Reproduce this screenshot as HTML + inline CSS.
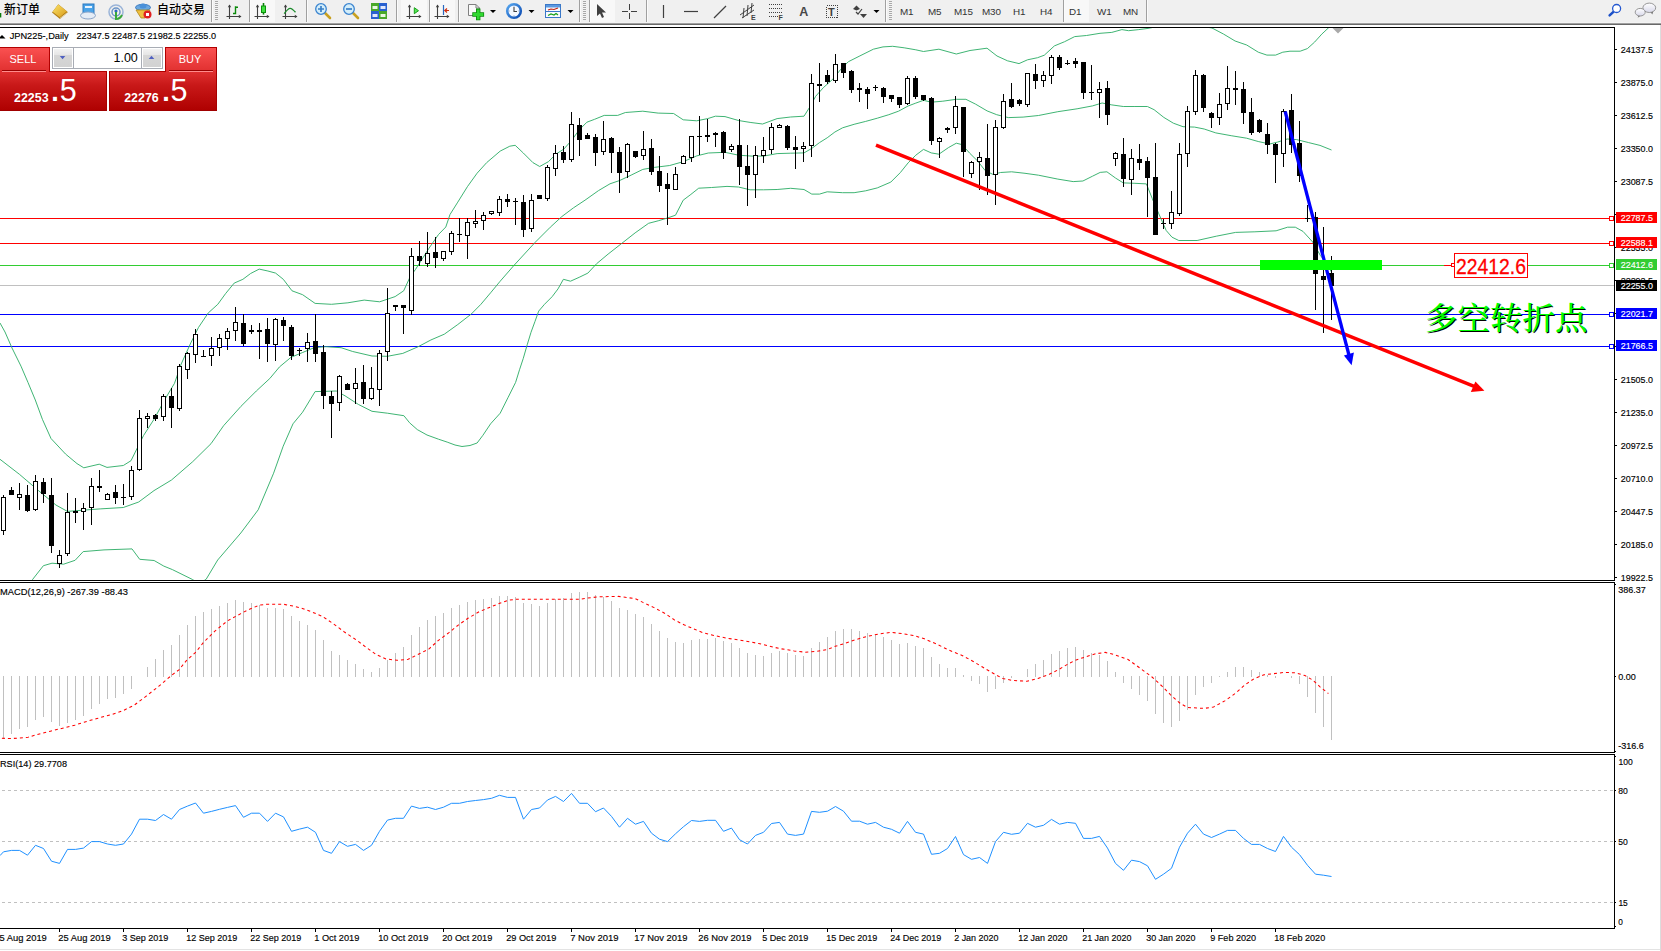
<!DOCTYPE html>
<html lang="zh"><head><meta charset="utf-8"><title>JPN225 Daily</title>
<style>
html,body{margin:0;padding:0;background:#fff;}
body{width:1661px;height:951px;overflow:hidden;position:relative;font-family:"Liberation Sans", "Noto Sans CJK SC", sans-serif;}
#chart{position:absolute;left:0;top:0;}
#toolbar{position:absolute;left:0;top:0;width:1661px;height:22px;background:#f0f0f0;}
#tbline{position:absolute;left:0;top:22px;width:1661px;height:3px;background:linear-gradient(#f4f4f4 0 1px,#a0a0a0 1px 2px,#696969 2px 3px);}
.tbtxt{position:absolute;top:3px;font-size:12px;line-height:15px;color:#000;white-space:nowrap;}
.tf{position:absolute;top:5.5px;font-size:9.9px;line-height:12px;color:#343434;white-space:nowrap;letter-spacing:-0.15px;}
.sep{position:absolute;top:0px;width:1px;height:22px;background:#a0a0a0;box-shadow:1px 0 0 #fbfbfb;}
.grip{position:absolute;top:1px;width:3px;height:19px;background:repeating-linear-gradient(#a8a8a8 0 1px,#f4f4f4 1px 2px);}
.hl{position:absolute;top:0;height:22px;background:#f8f8f8;}
#tb svg{position:absolute;left:0;top:0;}
#trade{position:absolute;left:0;top:47px;width:217px;height:64px;}
#trade div{position:absolute;}
</style></head><body>
<svg id="chart" width="1661" height="951" viewBox="0 0 1661 951" font-family='"Liberation Sans", "Noto Sans CJK SC", sans-serif'>
<defs>
<clipPath id="cm"><rect x="0" y="28" width="1614" height="552"/></clipPath>
<clipPath id="cmacd"><rect x="0" y="583" width="1614" height="169"/></clipPath>
<clipPath id="crsi"><rect x="0" y="755" width="1614" height="173"/></clipPath>
</defs>
<g shape-rendering="crispEdges" stroke="#000" stroke-width="1" fill="none">
<line x1="0" y1="27.5" x2="1615" y2="27.5"/>
<line x1="1614.5" y1="27" x2="1614.5" y2="581"/>
<line x1="0" y1="580.5" x2="1615" y2="580.5"/>
<line x1="0" y1="582.5" x2="1615" y2="582.5"/>
<line x1="1614.5" y1="582" x2="1614.5" y2="753"/>
<line x1="0" y1="752.5" x2="1615" y2="752.5"/>
<line x1="0" y1="754.5" x2="1615" y2="754.5"/>
<line x1="1614.5" y1="754" x2="1614.5" y2="929"/>
<line x1="0" y1="928.5" x2="1615" y2="928.5"/>
</g>
<g clip-path="url(#cm)">
<g shape-rendering="crispEdges" stroke-width="1">
<line x1="0" y1="285.5" x2="1614" y2="285.5" stroke="#c0c0c0"/>
<line x1="0" y1="218.5" x2="1614" y2="218.5" stroke="#ff0000"/>
<line x1="0" y1="243.5" x2="1614" y2="243.5" stroke="#ff0000"/>
<line x1="0" y1="265.5" x2="1614" y2="265.5" stroke="#32cd32"/>
<line x1="0" y1="314.5" x2="1614" y2="314.5" stroke="#0000ff"/>
<line x1="0" y1="346.5" x2="1614" y2="346.5" stroke="#0000ff"/>
</g>
<polyline points="0.0,323.0 5.0,332.0 12.0,348.0 21.0,366.2 28.0,382.5 35.3,400.0 42.4,419.3 51.0,438.5 65.5,454.0 77.0,463.6 83.8,467.8 99.2,464.2 107.0,467.4 123.3,465.5 131.0,460.7 136.8,449.0 143.5,435.6 154.0,419.3 160.0,408.4 165.8,397.8 174.5,383.3 181.2,364.0 190.8,342.9 198.5,327.4 208.2,313.0 217.8,304.3 225.5,293.7 234.2,283.1 242.9,279.3 250.6,273.5 259.2,269.1 267.9,271.0 275.6,273.1 283.3,279.3 292.0,290.8 302.6,294.7 315.1,303.4 331.5,304.3 347.9,302.8 364.2,300.1 379.7,301.8 395.1,296.6 403.7,290.8 410.5,276.0 415.4,269.6 428.9,248.4 438.5,234.5 445.8,227.0 450.0,214.5 457.8,202.1 467.4,186.7 477.1,173.2 486.7,162.6 500.2,151.1 509.8,146.2 515.2,145.3 523.3,153.0 532.9,162.6 539.7,166.5 548.4,161.7 556.1,154.0 563.8,149.1 571.5,140.5 579.2,129.9 586.9,122.2 594.6,119.3 604.2,115.4 617.7,115.4 625.4,112.5 642.8,111.2 658.2,113.1 673.6,113.5 683.2,119.8 696.7,120.8 707.7,118.6 715.4,116.2 725.0,116.6 738.5,120.5 750.1,122.4 762.6,124.0 777.1,118.6 790.6,117.0 804.0,116.2 809.8,107.0 815.6,96.4 823.3,87.7 832.9,79.1 840.7,69.4 848.4,61.7 859.9,55.9 873.4,49.2 883.0,46.9 892.7,46.3 904.2,47.8 915.8,49.8 923.5,51.5 938.9,49.2 956.3,54.0 970.0,50.5 987.0,48.2 997.0,56.0 1007.5,60.8 1019.0,63.6 1027.5,59.8 1037.6,57.7 1044.3,55.2 1054.4,45.9 1064.6,41.7 1074.7,36.6 1086.5,35.5 1100.0,33.3 1111.8,32.4 1121.9,29.6 1128.6,30.7 1138.8,29.6 1148.0,28.4 1160.0,26.0 1200.0,26.0 1212.0,28.0 1223.6,34.1 1235.1,41.0 1246.7,45.0 1258.3,52.2 1266.9,55.1 1275.6,55.1 1282.8,52.2 1290.0,51.2 1300.2,51.2 1307.4,48.6 1314.6,42.1 1321.8,34.1 1328.3,28.0 1331.5,25.0" fill="none" stroke="#35b06c" stroke-width="0.95"/>
<polyline points="0.0,459.3 19.3,474.2 38.5,490.6 55.9,505.0 67.4,511.4 82.9,510.2 100.2,508.9 123.3,507.5 138.7,502.0 154.0,490.6 171.5,480.0 192.7,461.7 211.0,443.7 223.6,425.7 240.9,406.4 256.3,391.0 269.8,378.5 279.5,366.9 291.0,357.3 302.6,352.5 314.1,347.7 325.7,346.7 341.1,347.7 352.7,351.5 372.0,356.0 387.4,356.3 402.8,353.4 418.2,346.7 430.8,340.0 444.3,334.2 457.8,324.5 471.3,314.0 480.9,304.3 490.6,292.8 500.2,281.2 513.7,265.7 534.9,242.6 550.3,227.2 561.8,216.6 573.4,207.9 585.0,200.2 598.5,190.6 610.0,183.8 619.7,180.5 631.2,175.1 642.8,169.4 654.3,167.4 669.7,165.5 683.2,161.7 696.7,155.9 708.3,153.0 725.0,152.3 738.5,155.2 752.0,156.1 763.6,156.1 777.1,153.6 790.6,153.2 804.0,152.9 811.8,148.4 819.5,142.6 827.2,137.8 834.9,132.0 842.6,127.8 854.1,124.3 865.7,121.4 877.3,118.2 888.8,114.7 898.5,111.2 908.1,106.0 915.8,103.1 923.5,100.3 931.2,102.2 942.8,101.2 956.3,99.3 965.9,99.3 975.5,104.1 987.1,110.9 996.7,114.7 1008.3,117.6 1023.1,117.1 1038.5,115.5 1057.8,111.7 1077.1,108.8 1092.5,105.9 1102.1,103.0 1111.8,104.9 1123.3,106.5 1134.9,106.5 1147.4,106.5 1154.1,109.7 1163.8,117.4 1173.4,123.2 1183.0,126.7 1194.6,127.1 1204.2,129.0 1215.8,132.9 1231.2,135.7 1246.6,138.2 1258.2,141.5 1269.7,144.0 1277.5,142.1 1287.1,139.0 1296.7,139.6 1308.3,142.5 1320.0,145.4 1331.5,150.0" fill="none" stroke="#35b06c" stroke-width="0.95"/>
<polyline points="20.0,600.0 32.8,579.2 43.4,565.7 52.0,563.2 63.6,564.2 75.1,560.3 83.2,551.6 104.0,549.9 132.0,548.9 139.7,559.3 154.1,560.5 163.8,566.1 172.4,569.6 192.7,579.6 199.0,584.0 206.2,579.2 217.7,560.0 240.8,533.0 258.2,509.8 273.6,473.2 283.2,446.2 293.0,423.8 302.6,412.2 315.1,391.6 336.3,391.0 345.0,395.8 358.5,404.5 372.0,411.3 387.4,413.2 400.0,415.1 403.9,415.7 409.6,422.8 417.3,429.6 427.0,435.0 438.5,439.2 447.2,442.1 455.0,445.0 462.0,446.5 470.0,445.5 477.1,443.0 482.9,435.3 490.6,423.8 500.2,413.2 507.9,397.8 515.6,382.4 519.5,369.8 523.3,358.3 527.2,344.8 531.0,332.3 534.9,321.7 538.7,311.1 544.5,304.3 552.2,296.6 558.0,288.9 563.4,279.3 570.5,281.2 579.2,277.3 587.9,273.1 596.5,263.8 608.1,254.1 621.6,243.5 635.1,232.9 648.6,223.3 658.2,220.8 667.8,217.9 675.5,215.2 683.2,200.2 690.9,194.4 698.7,188.2 711.6,187.5 727.0,186.4 738.5,187.0 750.1,189.8 763.6,189.8 777.1,189.5 790.6,188.3 804.0,189.5 811.8,194.1 819.5,194.1 827.2,191.8 842.6,192.7 854.1,192.7 865.7,190.8 877.3,187.9 890.8,182.1 900.4,172.5 908.1,162.9 915.8,155.2 923.5,149.4 931.2,152.9 938.9,154.2 948.6,147.5 956.3,143.2 962.0,144.6 969.7,153.2 977.5,160.9 985.2,170.6 992.9,174.4 1000.6,172.5 1011.6,171.8 1025.0,173.3 1038.5,175.2 1057.8,179.1 1073.2,181.6 1082.9,181.0 1092.5,176.2 1100.2,172.4 1106.9,171.8 1115.6,178.1 1123.3,182.9 1134.9,183.3 1146.4,183.9 1152.2,198.4 1158.5,213.1 1166.2,230.5 1172.0,237.2 1178.8,240.5 1197.1,240.5 1216.3,236.2 1235.6,232.4 1254.9,231.8 1276.1,230.8 1287.6,227.2 1295.3,227.2 1303.0,231.4 1312.7,242.0 1320.4,255.5 1324.3,260.3 1331.5,272.0" fill="none" stroke="#35b06c" stroke-width="0.95"/>
<g shape-rendering="crispEdges" stroke="#000" stroke-width="1">
<line x1="3.5" y1="495" x2="3.5" y2="535"/>
<rect x="1.5" y="497.5" width="4" height="33" fill="#fff"/>
<line x1="11.5" y1="487" x2="11.5" y2="495"/>
<rect x="9.5" y="490.5" width="4" height="4" fill="#000"/>
<line x1="19.5" y1="483" x2="19.5" y2="510"/>
<rect x="17.5" y="494.5" width="4" height="3" fill="#fff"/>
<line x1="27.5" y1="485" x2="27.5" y2="512"/>
<rect x="25.5" y="495.5" width="4" height="15" fill="#000"/>
<line x1="35.5" y1="475" x2="35.5" y2="511"/>
<rect x="33.5" y="481.5" width="4" height="28" fill="#fff"/>
<line x1="43.5" y1="478" x2="43.5" y2="503"/>
<rect x="41.5" y="482.5" width="4" height="11" fill="#000"/>
<line x1="51.5" y1="478" x2="51.5" y2="553"/>
<rect x="49.5" y="495.5" width="4" height="50" fill="#000"/>
<line x1="59.5" y1="550" x2="59.5" y2="568"/>
<rect x="57.5" y="555.5" width="4" height="8" fill="#fff"/>
<line x1="67.5" y1="493" x2="67.5" y2="556"/>
<rect x="65.5" y="512.5" width="4" height="41" fill="#fff"/>
<line x1="75.5" y1="498" x2="75.5" y2="523"/>
<rect x="73.5" y="511.5" width="4" height="1" fill="#000"/>
<line x1="83.5" y1="503" x2="83.5" y2="530"/>
<rect x="81.5" y="508.5" width="4" height="3" fill="#fff"/>
<line x1="91.5" y1="478" x2="91.5" y2="525"/>
<rect x="89.5" y="486.5" width="4" height="21" fill="#fff"/>
<line x1="99.5" y1="470" x2="99.5" y2="492"/>
<rect x="97.5" y="486.5" width="4" height="1" fill="#000"/>
<line x1="107.5" y1="493" x2="107.5" y2="500"/>
<rect x="105.5" y="494.5" width="4" height="5" fill="#fff"/>
<line x1="115.5" y1="485" x2="115.5" y2="504"/>
<rect x="113.5" y="492.5" width="4" height="5" fill="#000"/>
<line x1="123.5" y1="484" x2="123.5" y2="505"/>
<line x1="121.0" y1="497.5" x2="126.0" y2="497.5"/>
<line x1="131.5" y1="466" x2="131.5" y2="500"/>
<rect x="129.5" y="470.5" width="4" height="26" fill="#fff"/>
<line x1="139.5" y1="410" x2="139.5" y2="471"/>
<rect x="137.5" y="418.5" width="4" height="51" fill="#fff"/>
<line x1="147.5" y1="413" x2="147.5" y2="428"/>
<rect x="145.5" y="416.5" width="4" height="2" fill="#fff"/>
<line x1="155.5" y1="414" x2="155.5" y2="421"/>
<rect x="153.5" y="415.5" width="4" height="3" fill="#000"/>
<line x1="163.5" y1="394" x2="163.5" y2="421"/>
<rect x="161.5" y="396.5" width="4" height="20" fill="#fff"/>
<line x1="171.5" y1="388" x2="171.5" y2="428"/>
<rect x="169.5" y="396.5" width="4" height="11" fill="#000"/>
<line x1="179.5" y1="364" x2="179.5" y2="411"/>
<rect x="177.5" y="366.5" width="4" height="42" fill="#fff"/>
<line x1="187.5" y1="352" x2="187.5" y2="379"/>
<rect x="185.5" y="353.5" width="4" height="16" fill="#fff"/>
<line x1="195.5" y1="329" x2="195.5" y2="363"/>
<rect x="193.5" y="334.5" width="4" height="20" fill="#fff"/>
<line x1="203.5" y1="350" x2="203.5" y2="357"/>
<line x1="201.0" y1="356.5" x2="206.0" y2="356.5"/>
<line x1="211.5" y1="337" x2="211.5" y2="366"/>
<rect x="209.5" y="348.5" width="4" height="7" fill="#fff"/>
<line x1="219.5" y1="334" x2="219.5" y2="356"/>
<rect x="217.5" y="338.5" width="4" height="9" fill="#fff"/>
<line x1="227.5" y1="328" x2="227.5" y2="350"/>
<rect x="225.5" y="331.5" width="4" height="7" fill="#fff"/>
<line x1="235.5" y1="307" x2="235.5" y2="341"/>
<rect x="233.5" y="322.5" width="4" height="8" fill="#fff"/>
<line x1="243.5" y1="314" x2="243.5" y2="346"/>
<rect x="241.5" y="323.5" width="4" height="20" fill="#000"/>
<line x1="251.5" y1="325" x2="251.5" y2="334"/>
<rect x="249.5" y="330.5" width="4" height="1" fill="#000"/>
<line x1="259.5" y1="323" x2="259.5" y2="359"/>
<rect x="257.5" y="330.5" width="4" height="1" fill="#000"/>
<line x1="267.5" y1="318" x2="267.5" y2="362"/>
<rect x="265.5" y="329.5" width="4" height="14" fill="#000"/>
<line x1="275.5" y1="318" x2="275.5" y2="361"/>
<rect x="273.5" y="319.5" width="4" height="25" fill="#fff"/>
<line x1="283.5" y1="317" x2="283.5" y2="341"/>
<rect x="281.5" y="320.5" width="4" height="5" fill="#000"/>
<line x1="291.5" y1="325" x2="291.5" y2="360"/>
<rect x="289.5" y="327.5" width="4" height="28" fill="#000"/>
<line x1="299.5" y1="348" x2="299.5" y2="356"/>
<line x1="297.0" y1="350.5" x2="302.0" y2="350.5"/>
<line x1="307.5" y1="333" x2="307.5" y2="362"/>
<rect x="305.5" y="342.5" width="4" height="6" fill="#fff"/>
<line x1="315.5" y1="314" x2="315.5" y2="362"/>
<rect x="313.5" y="341.5" width="4" height="12" fill="#000"/>
<line x1="323.5" y1="345" x2="323.5" y2="409"/>
<rect x="321.5" y="352.5" width="4" height="43" fill="#000"/>
<line x1="331.5" y1="391" x2="331.5" y2="438"/>
<rect x="329.5" y="396.5" width="4" height="7" fill="#000"/>
<line x1="339.5" y1="375" x2="339.5" y2="411"/>
<rect x="337.5" y="376.5" width="4" height="26" fill="#fff"/>
<line x1="347.5" y1="383" x2="347.5" y2="390"/>
<rect x="345.5" y="384.5" width="4" height="5" fill="#000"/>
<line x1="355.5" y1="368" x2="355.5" y2="404"/>
<rect x="353.5" y="383.5" width="4" height="5" fill="#fff"/>
<line x1="363.5" y1="365" x2="363.5" y2="404"/>
<rect x="361.5" y="382.5" width="4" height="16" fill="#000"/>
<line x1="371.5" y1="367" x2="371.5" y2="400"/>
<rect x="369.5" y="388.5" width="4" height="10" fill="#fff"/>
<line x1="379.5" y1="350" x2="379.5" y2="406"/>
<rect x="377.5" y="353.5" width="4" height="36" fill="#fff"/>
<line x1="387.5" y1="288" x2="387.5" y2="361"/>
<rect x="385.5" y="313.5" width="4" height="38" fill="#fff"/>
<line x1="395.5" y1="305" x2="395.5" y2="311"/>
<rect x="393.5" y="305.5" width="4" height="1" fill="#000"/>
<line x1="403.5" y1="305" x2="403.5" y2="334"/>
<rect x="401.5" y="305.5" width="4" height="2" fill="#000"/>
<line x1="411.5" y1="248" x2="411.5" y2="315"/>
<rect x="409.5" y="256.5" width="4" height="54" fill="#fff"/>
<line x1="419.5" y1="241" x2="419.5" y2="266"/>
<rect x="417.5" y="256.5" width="4" height="4" fill="#000"/>
<line x1="427.5" y1="232" x2="427.5" y2="267"/>
<rect x="425.5" y="253.5" width="4" height="10" fill="#fff"/>
<line x1="435.5" y1="237" x2="435.5" y2="268"/>
<rect x="433.5" y="252.5" width="4" height="5" fill="#000"/>
<line x1="443.5" y1="251" x2="443.5" y2="261"/>
<rect x="441.5" y="251.5" width="4" height="7" fill="#fff"/>
<line x1="451.5" y1="231" x2="451.5" y2="255"/>
<rect x="449.5" y="233.5" width="4" height="18" fill="#fff"/>
<line x1="459.5" y1="218" x2="459.5" y2="242"/>
<line x1="457.0" y1="234.5" x2="462.0" y2="234.5"/>
<line x1="467.5" y1="218" x2="467.5" y2="259"/>
<rect x="465.5" y="222.5" width="4" height="13" fill="#fff"/>
<line x1="475.5" y1="210" x2="475.5" y2="228"/>
<rect x="473.5" y="221.5" width="4" height="2" fill="#fff"/>
<line x1="483.5" y1="212" x2="483.5" y2="230"/>
<rect x="481.5" y="215.5" width="4" height="5" fill="#fff"/>
<line x1="491.5" y1="211" x2="491.5" y2="215"/>
<rect x="489.5" y="211.5" width="4" height="2" fill="#fff"/>
<line x1="499.5" y1="196" x2="499.5" y2="216"/>
<rect x="497.5" y="199.5" width="4" height="13" fill="#fff"/>
<line x1="507.5" y1="194" x2="507.5" y2="207"/>
<rect x="505.5" y="199.5" width="4" height="2" fill="#000"/>
<line x1="515.5" y1="198" x2="515.5" y2="225"/>
<line x1="513.0" y1="201.5" x2="518.0" y2="201.5"/>
<line x1="523.5" y1="195" x2="523.5" y2="237"/>
<rect x="521.5" y="202.5" width="4" height="27" fill="#000"/>
<line x1="531.5" y1="194" x2="531.5" y2="232"/>
<rect x="529.5" y="200.5" width="4" height="28" fill="#fff"/>
<line x1="539.5" y1="195" x2="539.5" y2="199"/>
<rect x="537.5" y="195.5" width="4" height="3" fill="#000"/>
<line x1="547.5" y1="165" x2="547.5" y2="201"/>
<rect x="545.5" y="167.5" width="4" height="31" fill="#fff"/>
<line x1="555.5" y1="145" x2="555.5" y2="176"/>
<rect x="553.5" y="153.5" width="4" height="15" fill="#fff"/>
<line x1="563.5" y1="146" x2="563.5" y2="163"/>
<rect x="561.5" y="152.5" width="4" height="7" fill="#000"/>
<line x1="571.5" y1="112" x2="571.5" y2="162"/>
<rect x="569.5" y="124.5" width="4" height="35" fill="#fff"/>
<line x1="579.5" y1="118" x2="579.5" y2="156"/>
<rect x="577.5" y="125.5" width="4" height="14" fill="#000"/>
<line x1="587.5" y1="133" x2="587.5" y2="139"/>
<rect x="585.5" y="135.5" width="4" height="3" fill="#000"/>
<line x1="595.5" y1="134" x2="595.5" y2="166"/>
<rect x="593.5" y="137.5" width="4" height="15" fill="#000"/>
<line x1="603.5" y1="121" x2="603.5" y2="155"/>
<rect x="601.5" y="139.5" width="4" height="12" fill="#fff"/>
<line x1="611.5" y1="137" x2="611.5" y2="173"/>
<rect x="609.5" y="138.5" width="4" height="14" fill="#000"/>
<line x1="619.5" y1="147" x2="619.5" y2="193"/>
<rect x="617.5" y="152.5" width="4" height="20" fill="#000"/>
<line x1="627.5" y1="143" x2="627.5" y2="178"/>
<rect x="625.5" y="144.5" width="4" height="27" fill="#fff"/>
<line x1="635.5" y1="151" x2="635.5" y2="158"/>
<rect x="633.5" y="151.5" width="4" height="5" fill="#000"/>
<line x1="643.5" y1="131" x2="643.5" y2="160"/>
<rect x="641.5" y="149.5" width="4" height="6" fill="#fff"/>
<line x1="651.5" y1="139" x2="651.5" y2="175"/>
<rect x="649.5" y="148.5" width="4" height="23" fill="#000"/>
<line x1="659.5" y1="156" x2="659.5" y2="192"/>
<rect x="657.5" y="171.5" width="4" height="14" fill="#000"/>
<line x1="667.5" y1="173" x2="667.5" y2="225"/>
<rect x="665.5" y="184.5" width="4" height="4" fill="#000"/>
<line x1="675.5" y1="167" x2="675.5" y2="190"/>
<rect x="673.5" y="174.5" width="4" height="15" fill="#fff"/>
<line x1="683.5" y1="155" x2="683.5" y2="164"/>
<rect x="681.5" y="156.5" width="4" height="7" fill="#fff"/>
<line x1="691.5" y1="136" x2="691.5" y2="162"/>
<rect x="689.5" y="136.5" width="4" height="21" fill="#fff"/>
<line x1="699.5" y1="116" x2="699.5" y2="155"/>
<line x1="697.0" y1="136.5" x2="702.0" y2="136.5"/>
<line x1="707.5" y1="119" x2="707.5" y2="142"/>
<rect x="705.5" y="135.5" width="4" height="1" fill="#000"/>
<line x1="715.5" y1="132" x2="715.5" y2="147"/>
<rect x="713.5" y="133.5" width="4" height="1" fill="#000"/>
<line x1="723.5" y1="131" x2="723.5" y2="159"/>
<rect x="721.5" y="132.5" width="4" height="20" fill="#000"/>
<line x1="731.5" y1="144" x2="731.5" y2="152"/>
<rect x="729.5" y="146.5" width="4" height="3" fill="#fff"/>
<line x1="739.5" y1="119" x2="739.5" y2="185"/>
<rect x="737.5" y="145.5" width="4" height="21" fill="#000"/>
<line x1="747.5" y1="145" x2="747.5" y2="206"/>
<rect x="745.5" y="166.5" width="4" height="8" fill="#000"/>
<line x1="755.5" y1="146" x2="755.5" y2="198"/>
<rect x="753.5" y="155.5" width="4" height="19" fill="#fff"/>
<line x1="763.5" y1="137" x2="763.5" y2="163"/>
<rect x="761.5" y="150.5" width="4" height="5" fill="#fff"/>
<line x1="771.5" y1="123" x2="771.5" y2="154"/>
<rect x="769.5" y="127.5" width="4" height="22" fill="#fff"/>
<line x1="779.5" y1="124" x2="779.5" y2="128"/>
<rect x="777.5" y="125.5" width="4" height="2" fill="#fff"/>
<line x1="787.5" y1="125" x2="787.5" y2="150"/>
<rect x="785.5" y="126.5" width="4" height="21" fill="#000"/>
<line x1="795.5" y1="136" x2="795.5" y2="169"/>
<rect x="793.5" y="147.5" width="4" height="2" fill="#000"/>
<line x1="803.5" y1="142" x2="803.5" y2="162"/>
<rect x="801.5" y="146.5" width="4" height="2" fill="#fff"/>
<line x1="811.5" y1="74" x2="811.5" y2="157"/>
<rect x="809.5" y="83.5" width="4" height="62" fill="#fff"/>
<line x1="819.5" y1="63" x2="819.5" y2="102"/>
<rect x="817.5" y="84.5" width="4" height="1" fill="#000"/>
<line x1="827.5" y1="70" x2="827.5" y2="84"/>
<rect x="825.5" y="75.5" width="4" height="6" fill="#000"/>
<line x1="835.5" y1="54" x2="835.5" y2="83"/>
<rect x="833.5" y="64.5" width="4" height="16" fill="#fff"/>
<line x1="843.5" y1="63" x2="843.5" y2="78"/>
<rect x="841.5" y="63.5" width="4" height="9" fill="#000"/>
<line x1="851.5" y1="70" x2="851.5" y2="93"/>
<rect x="849.5" y="71.5" width="4" height="18" fill="#000"/>
<line x1="859.5" y1="83" x2="859.5" y2="102"/>
<rect x="857.5" y="88.5" width="4" height="1" fill="#000"/>
<line x1="867.5" y1="87" x2="867.5" y2="109"/>
<rect x="865.5" y="89.5" width="4" height="4" fill="#000"/>
<line x1="875.5" y1="85" x2="875.5" y2="91"/>
<line x1="873.0" y1="87.5" x2="878.0" y2="87.5"/>
<line x1="883.5" y1="87" x2="883.5" y2="103"/>
<rect x="881.5" y="88.5" width="4" height="8" fill="#000"/>
<line x1="891.5" y1="95" x2="891.5" y2="102"/>
<rect x="889.5" y="95.5" width="4" height="3" fill="#000"/>
<line x1="899.5" y1="97" x2="899.5" y2="108"/>
<rect x="897.5" y="97.5" width="4" height="7" fill="#000"/>
<line x1="907.5" y1="76" x2="907.5" y2="105"/>
<rect x="905.5" y="78.5" width="4" height="25" fill="#fff"/>
<line x1="915.5" y1="76" x2="915.5" y2="99"/>
<rect x="913.5" y="78.5" width="4" height="18" fill="#000"/>
<line x1="923.5" y1="95" x2="923.5" y2="101"/>
<rect x="921.5" y="95.5" width="4" height="4" fill="#000"/>
<line x1="931.5" y1="97" x2="931.5" y2="145"/>
<rect x="929.5" y="98.5" width="4" height="42" fill="#000"/>
<line x1="939.5" y1="137" x2="939.5" y2="158"/>
<rect x="937.5" y="138.5" width="4" height="3" fill="#fff"/>
<line x1="947.5" y1="127" x2="947.5" y2="133"/>
<rect x="945.5" y="128.5" width="4" height="1" fill="#000"/>
<line x1="955.5" y1="96" x2="955.5" y2="134"/>
<rect x="953.5" y="106.5" width="4" height="21" fill="#fff"/>
<line x1="963.5" y1="107" x2="963.5" y2="177"/>
<rect x="961.5" y="107.5" width="4" height="44" fill="#000"/>
<line x1="971.5" y1="161" x2="971.5" y2="178"/>
<rect x="969.5" y="162.5" width="4" height="11" fill="#fff"/>
<line x1="979.5" y1="152" x2="979.5" y2="190"/>
<rect x="977.5" y="157.5" width="4" height="4" fill="#fff"/>
<line x1="987.5" y1="124" x2="987.5" y2="195"/>
<rect x="985.5" y="158.5" width="4" height="17" fill="#000"/>
<line x1="995.5" y1="120" x2="995.5" y2="205"/>
<rect x="993.5" y="127.5" width="4" height="47" fill="#fff"/>
<line x1="1003.5" y1="94" x2="1003.5" y2="129"/>
<rect x="1001.5" y="101.5" width="4" height="26" fill="#fff"/>
<line x1="1011.5" y1="83" x2="1011.5" y2="108"/>
<rect x="1009.5" y="99.5" width="4" height="7" fill="#000"/>
<line x1="1019.5" y1="99" x2="1019.5" y2="106"/>
<rect x="1017.5" y="100.5" width="4" height="3" fill="#000"/>
<line x1="1027.5" y1="73" x2="1027.5" y2="107"/>
<rect x="1025.5" y="73.5" width="4" height="31" fill="#fff"/>
<line x1="1035.5" y1="64" x2="1035.5" y2="89"/>
<rect x="1033.5" y="74.5" width="4" height="6" fill="#000"/>
<line x1="1043.5" y1="71" x2="1043.5" y2="87"/>
<rect x="1041.5" y="75.5" width="4" height="5" fill="#fff"/>
<line x1="1051.5" y1="55" x2="1051.5" y2="84"/>
<rect x="1049.5" y="57.5" width="4" height="18" fill="#fff"/>
<line x1="1059.5" y1="55" x2="1059.5" y2="70"/>
<rect x="1057.5" y="57.5" width="4" height="10" fill="#000"/>
<line x1="1067.5" y1="60" x2="1067.5" y2="65"/>
<line x1="1065.0" y1="63.5" x2="1070.0" y2="63.5"/>
<line x1="1075.5" y1="58" x2="1075.5" y2="68"/>
<rect x="1073.5" y="61.5" width="4" height="2" fill="#000"/>
<line x1="1083.5" y1="62" x2="1083.5" y2="99"/>
<rect x="1081.5" y="62.5" width="4" height="30" fill="#000"/>
<line x1="1091.5" y1="65" x2="1091.5" y2="100"/>
<line x1="1089.0" y1="92.5" x2="1094.0" y2="92.5"/>
<line x1="1099.5" y1="82" x2="1099.5" y2="118"/>
<rect x="1097.5" y="89.5" width="4" height="3" fill="#fff"/>
<line x1="1107.5" y1="81" x2="1107.5" y2="125"/>
<rect x="1105.5" y="88.5" width="4" height="26" fill="#000"/>
<line x1="1115.5" y1="152" x2="1115.5" y2="166"/>
<rect x="1113.5" y="153.5" width="4" height="5" fill="#fff"/>
<line x1="1123.5" y1="138" x2="1123.5" y2="187"/>
<rect x="1121.5" y="154.5" width="4" height="24" fill="#000"/>
<line x1="1131.5" y1="149" x2="1131.5" y2="195"/>
<rect x="1129.5" y="158.5" width="4" height="21" fill="#fff"/>
<line x1="1139.5" y1="144" x2="1139.5" y2="170"/>
<rect x="1137.5" y="159.5" width="4" height="3" fill="#000"/>
<line x1="1147.5" y1="157" x2="1147.5" y2="217"/>
<rect x="1145.5" y="161.5" width="4" height="16" fill="#000"/>
<line x1="1155.5" y1="143" x2="1155.5" y2="235"/>
<rect x="1153.5" y="177.5" width="4" height="57" fill="#000"/>
<line x1="1163.5" y1="219" x2="1163.5" y2="229"/>
<line x1="1161.0" y1="223.5" x2="1166.0" y2="223.5"/>
<line x1="1171.5" y1="191" x2="1171.5" y2="229"/>
<rect x="1169.5" y="212.5" width="4" height="11" fill="#fff"/>
<line x1="1179.5" y1="143" x2="1179.5" y2="216"/>
<rect x="1177.5" y="154.5" width="4" height="59" fill="#fff"/>
<line x1="1187.5" y1="106" x2="1187.5" y2="167"/>
<rect x="1185.5" y="111.5" width="4" height="42" fill="#fff"/>
<line x1="1195.5" y1="70" x2="1195.5" y2="115"/>
<rect x="1193.5" y="75.5" width="4" height="36" fill="#fff"/>
<line x1="1203.5" y1="74" x2="1203.5" y2="112"/>
<rect x="1201.5" y="75.5" width="4" height="32" fill="#000"/>
<line x1="1211.5" y1="112" x2="1211.5" y2="128"/>
<rect x="1209.5" y="113.5" width="4" height="4" fill="#000"/>
<line x1="1219.5" y1="93" x2="1219.5" y2="125"/>
<rect x="1217.5" y="104.5" width="4" height="13" fill="#fff"/>
<line x1="1227.5" y1="66" x2="1227.5" y2="110"/>
<rect x="1225.5" y="88.5" width="4" height="15" fill="#fff"/>
<line x1="1235.5" y1="71" x2="1235.5" y2="105"/>
<rect x="1233.5" y="88.5" width="4" height="1" fill="#000"/>
<line x1="1243.5" y1="82" x2="1243.5" y2="124"/>
<rect x="1241.5" y="89.5" width="4" height="23" fill="#000"/>
<line x1="1251.5" y1="98" x2="1251.5" y2="135"/>
<rect x="1249.5" y="112.5" width="4" height="20" fill="#000"/>
<line x1="1259.5" y1="119" x2="1259.5" y2="133"/>
<rect x="1257.5" y="120.5" width="4" height="11" fill="#000"/>
<line x1="1267.5" y1="123" x2="1267.5" y2="154"/>
<rect x="1265.5" y="134.5" width="4" height="10" fill="#000"/>
<line x1="1275.5" y1="143" x2="1275.5" y2="183"/>
<rect x="1273.5" y="144.5" width="4" height="10" fill="#000"/>
<line x1="1283.5" y1="109" x2="1283.5" y2="167"/>
<rect x="1281.5" y="111.5" width="4" height="42" fill="#fff"/>
<line x1="1291.5" y1="94" x2="1291.5" y2="153"/>
<rect x="1289.5" y="110.5" width="4" height="34" fill="#000"/>
<line x1="1299.5" y1="121" x2="1299.5" y2="182"/>
<rect x="1297.5" y="143.5" width="4" height="32" fill="#000"/>
<line x1="1307.5" y1="205" x2="1307.5" y2="222"/>
<line x1="1305.0" y1="218.5" x2="1310.0" y2="218.5"/>
<line x1="1315.5" y1="212" x2="1315.5" y2="310"/>
<rect x="1313.5" y="217.5" width="4" height="56" fill="#000"/>
<line x1="1323.5" y1="227" x2="1323.5" y2="333"/>
<rect x="1321.5" y="276.5" width="4" height="3" fill="#000"/>
<line x1="1331.5" y1="256" x2="1331.5" y2="320"/>
<rect x="1329.5" y="273.5" width="4" height="12" fill="#000"/>
</g>
<line x1="876" y1="145.2" x2="1476" y2="387.2" stroke="#ff0000" stroke-width="3.5"/>
<polygon points="1484.4,390.7 1470.8,391.9 1475.4,381.4" fill="#ff0000"/>
<line x1="1285.2" y1="111.5" x2="1349.6" y2="357.5" stroke="#0000ff" stroke-width="3.3"/>
<polygon points="1351.6,365.2 1343.9,355.6 1353.9,352.4" fill="#0000ff"/>
<rect x="1260" y="260" width="122" height="10" fill="#00ff00" shape-rendering="crispEdges"/>
<g shape-rendering="crispEdges"><line x1="1444" y1="265.5" x2="1454" y2="265.5" stroke="#ff0000"/>
<rect x="1451.5" y="263.5" width="3" height="3" fill="#fff" stroke="#ff0000"/>
<rect x="1454.5" y="253.5" width="73" height="24" fill="#fff" stroke="#ff0000"/></g>
<text x="1456.1" y="273.8" font-size="22.5" fill="#ff0000" textLength="69.9" lengthAdjust="spacingAndGlyphs" stroke="#ff0000" stroke-width="0.3">22412.6</text>
<text x="1426.0" y="330.0" font-size="31" fill="#000" textLength="162.5" lengthAdjust="spacingAndGlyphs" font-family='"Noto Serif CJK SC","Noto Sans CJK SC",serif' font-weight="500">多空转折点</text>
<text x="1425.0" y="329.0" font-size="31" fill="#00ff00" textLength="162.5" lengthAdjust="spacingAndGlyphs" font-family='"Noto Serif CJK SC","Noto Sans CJK SC",serif' font-weight="500">多空转折点</text>
</g>
<polygon points="1332.5,28 1343.5,28 1338,33.5" fill="#a9a9a9"/>
<g shape-rendering="crispEdges" stroke="#000">
<line x1="1615" y1="49.5" x2="1617" y2="49.5"/>
<line x1="1615" y1="82.5" x2="1617" y2="82.5"/>
<line x1="1615" y1="115.5" x2="1617" y2="115.5"/>
<line x1="1615" y1="148.5" x2="1617" y2="148.5"/>
<line x1="1615" y1="181.5" x2="1617" y2="181.5"/>
<line x1="1615" y1="214.5" x2="1617" y2="214.5"/>
<line x1="1615" y1="247.5" x2="1617" y2="247.5"/>
<line x1="1615" y1="280.5" x2="1617" y2="280.5"/>
<line x1="1615" y1="313.5" x2="1617" y2="313.5"/>
<line x1="1615" y1="346.5" x2="1617" y2="346.5"/>
<line x1="1615" y1="379.5" x2="1617" y2="379.5"/>
<line x1="1615" y1="412.5" x2="1617" y2="412.5"/>
<line x1="1615" y1="445.5" x2="1617" y2="445.5"/>
<line x1="1615" y1="478.5" x2="1617" y2="478.5"/>
<line x1="1615" y1="511.5" x2="1617" y2="511.5"/>
<line x1="1615" y1="544.5" x2="1617" y2="544.5"/>
<line x1="1615" y1="577.5" x2="1617" y2="577.5"/>
</g>
<text x="1620.7" y="53.0" font-size="9.8" fill="#000" textLength="32.3" lengthAdjust="spacingAndGlyphs" stroke="#000" stroke-width="0.15">24137.5</text>
<text x="1620.7" y="86.0" font-size="9.8" fill="#000" textLength="32.3" lengthAdjust="spacingAndGlyphs" stroke="#000" stroke-width="0.15">23875.0</text>
<text x="1620.7" y="119.0" font-size="9.8" fill="#000" textLength="32.3" lengthAdjust="spacingAndGlyphs" stroke="#000" stroke-width="0.15">23612.5</text>
<text x="1620.7" y="152.0" font-size="9.8" fill="#000" textLength="32.3" lengthAdjust="spacingAndGlyphs" stroke="#000" stroke-width="0.15">23350.0</text>
<text x="1620.7" y="185.0" font-size="9.8" fill="#000" textLength="32.3" lengthAdjust="spacingAndGlyphs" stroke="#000" stroke-width="0.15">23087.5</text>
<text x="1620.7" y="218.0" font-size="9.8" fill="#000" textLength="32.3" lengthAdjust="spacingAndGlyphs" stroke="#000" stroke-width="0.15">22817.5</text>
<text x="1620.7" y="251.0" font-size="9.8" fill="#000" textLength="32.3" lengthAdjust="spacingAndGlyphs" stroke="#000" stroke-width="0.15">22555.0</text>
<text x="1620.7" y="284.0" font-size="9.8" fill="#000" textLength="32.3" lengthAdjust="spacingAndGlyphs" stroke="#000" stroke-width="0.15">22292.5</text>
<text x="1620.7" y="317.0" font-size="9.8" fill="#000" textLength="32.3" lengthAdjust="spacingAndGlyphs" stroke="#000" stroke-width="0.15">22030.0</text>
<text x="1620.7" y="350.0" font-size="9.8" fill="#000" textLength="32.3" lengthAdjust="spacingAndGlyphs" stroke="#000" stroke-width="0.15">21767.5</text>
<text x="1620.7" y="383.0" font-size="9.8" fill="#000" textLength="32.3" lengthAdjust="spacingAndGlyphs" stroke="#000" stroke-width="0.15">21505.0</text>
<text x="1620.7" y="416.0" font-size="9.8" fill="#000" textLength="32.3" lengthAdjust="spacingAndGlyphs" stroke="#000" stroke-width="0.15">21235.0</text>
<text x="1620.7" y="449.0" font-size="9.8" fill="#000" textLength="32.3" lengthAdjust="spacingAndGlyphs" stroke="#000" stroke-width="0.15">20972.5</text>
<text x="1620.7" y="482.0" font-size="9.8" fill="#000" textLength="32.3" lengthAdjust="spacingAndGlyphs" stroke="#000" stroke-width="0.15">20710.0</text>
<text x="1620.7" y="515.0" font-size="9.8" fill="#000" textLength="32.3" lengthAdjust="spacingAndGlyphs" stroke="#000" stroke-width="0.15">20447.5</text>
<text x="1620.7" y="548.0" font-size="9.8" fill="#000" textLength="32.3" lengthAdjust="spacingAndGlyphs" stroke="#000" stroke-width="0.15">20185.0</text>
<text x="1620.7" y="581.0" font-size="9.8" fill="#000" textLength="32.3" lengthAdjust="spacingAndGlyphs" stroke="#000" stroke-width="0.15">19922.5</text>
<g shape-rendering="crispEdges">
<rect x="1609.5" y="216.5" width="4" height="4" fill="#fff" stroke="#ff0000"/>
<rect x="1616" y="212" width="41" height="11" fill="#ff0000"/>
</g>
<text x="1620.7" y="221.0" font-size="9.8" fill="#fff" textLength="32.3" lengthAdjust="spacingAndGlyphs" stroke="#fff" stroke-width="0.15">22787.5</text>
<g shape-rendering="crispEdges">
<rect x="1609.5" y="241.5" width="4" height="4" fill="#fff" stroke="#ff0000"/>
<rect x="1616" y="237" width="41" height="11" fill="#ff0000"/>
</g>
<text x="1620.7" y="246.0" font-size="9.8" fill="#fff" textLength="32.3" lengthAdjust="spacingAndGlyphs" stroke="#fff" stroke-width="0.15">22588.1</text>
<g shape-rendering="crispEdges">
<rect x="1609.5" y="263.5" width="4" height="4" fill="#fff" stroke="#32cd32"/>
<rect x="1616" y="259" width="41" height="11" fill="#32cd32"/>
</g>
<text x="1620.7" y="268.0" font-size="9.8" fill="#fff" textLength="32.3" lengthAdjust="spacingAndGlyphs" stroke="#fff" stroke-width="0.15">22412.6</text>
<g shape-rendering="crispEdges">
<rect x="1616" y="280" width="41" height="11" fill="#000000"/>
</g>
<text x="1620.7" y="289.0" font-size="9.8" fill="#fff" textLength="32.3" lengthAdjust="spacingAndGlyphs" stroke="#fff" stroke-width="0.15">22255.0</text>
<g shape-rendering="crispEdges">
<rect x="1609.5" y="312.5" width="4" height="4" fill="#fff" stroke="#0000ff"/>
<rect x="1616" y="308" width="41" height="11" fill="#0000ff"/>
</g>
<text x="1620.7" y="317.0" font-size="9.8" fill="#fff" textLength="32.3" lengthAdjust="spacingAndGlyphs" stroke="#fff" stroke-width="0.15">22021.7</text>
<g shape-rendering="crispEdges">
<rect x="1609.5" y="344.5" width="4" height="4" fill="#fff" stroke="#0000ff"/>
<rect x="1616" y="340" width="41" height="11" fill="#0000ff"/>
</g>
<text x="1620.7" y="349.0" font-size="9.8" fill="#fff" textLength="32.3" lengthAdjust="spacingAndGlyphs" stroke="#fff" stroke-width="0.15">21766.5</text>
<polygon points="-1.5,38.5 5.5,38.5 2,35" fill="#000"/>
<text x="9.7" y="39.0" font-size="9.6" fill="#000" textLength="59.0" lengthAdjust="spacingAndGlyphs" stroke="#000" stroke-width="0.15">JPN225-,Daily</text>
<text x="76.5" y="39.0" font-size="9.6" fill="#000" textLength="139.5" lengthAdjust="spacingAndGlyphs" stroke="#000" stroke-width="0.15">22347.5 22487.5 21982.5 22255.0</text>
<g clip-path="url(#cmacd)">
<g shape-rendering="crispEdges" stroke="#c0c0c0" stroke-width="1">
<line x1="3.5" y1="676" x2="3.5" y2="738"/>
<line x1="11.5" y1="676" x2="11.5" y2="734"/>
<line x1="19.5" y1="676" x2="19.5" y2="729"/>
<line x1="27.5" y1="676" x2="27.5" y2="727"/>
<line x1="35.5" y1="676" x2="35.5" y2="720"/>
<line x1="43.5" y1="676" x2="43.5" y2="717"/>
<line x1="51.5" y1="676" x2="51.5" y2="722"/>
<line x1="59.5" y1="676" x2="59.5" y2="726"/>
<line x1="67.5" y1="676" x2="67.5" y2="723"/>
<line x1="75.5" y1="676" x2="75.5" y2="720"/>
<line x1="83.5" y1="676" x2="83.5" y2="716"/>
<line x1="91.5" y1="676" x2="91.5" y2="709"/>
<line x1="99.5" y1="676" x2="99.5" y2="704"/>
<line x1="107.5" y1="676" x2="107.5" y2="699"/>
<line x1="115.5" y1="676" x2="115.5" y2="698"/>
<line x1="123.5" y1="676" x2="123.5" y2="694"/>
<line x1="131.5" y1="676" x2="131.5" y2="689"/>
<line x1="147.5" y1="667" x2="147.5" y2="677"/>
<line x1="155.5" y1="659" x2="155.5" y2="677"/>
<line x1="163.5" y1="650" x2="163.5" y2="677"/>
<line x1="171.5" y1="645" x2="171.5" y2="677"/>
<line x1="179.5" y1="635" x2="179.5" y2="677"/>
<line x1="187.5" y1="625" x2="187.5" y2="677"/>
<line x1="195.5" y1="616" x2="195.5" y2="677"/>
<line x1="203.5" y1="612" x2="203.5" y2="677"/>
<line x1="211.5" y1="609" x2="211.5" y2="677"/>
<line x1="219.5" y1="606" x2="219.5" y2="677"/>
<line x1="227.5" y1="603" x2="227.5" y2="677"/>
<line x1="235.5" y1="600" x2="235.5" y2="677"/>
<line x1="243.5" y1="602" x2="243.5" y2="677"/>
<line x1="251.5" y1="603" x2="251.5" y2="677"/>
<line x1="259.5" y1="605" x2="259.5" y2="677"/>
<line x1="267.5" y1="608" x2="267.5" y2="677"/>
<line x1="275.5" y1="608" x2="275.5" y2="677"/>
<line x1="283.5" y1="609" x2="283.5" y2="677"/>
<line x1="291.5" y1="616" x2="291.5" y2="677"/>
<line x1="299.5" y1="621" x2="299.5" y2="677"/>
<line x1="307.5" y1="625" x2="307.5" y2="677"/>
<line x1="315.5" y1="630" x2="315.5" y2="677"/>
<line x1="323.5" y1="640" x2="323.5" y2="677"/>
<line x1="331.5" y1="651" x2="331.5" y2="677"/>
<line x1="339.5" y1="655" x2="339.5" y2="677"/>
<line x1="347.5" y1="660" x2="347.5" y2="677"/>
<line x1="355.5" y1="664" x2="355.5" y2="677"/>
<line x1="363.5" y1="669" x2="363.5" y2="677"/>
<line x1="371.5" y1="672" x2="371.5" y2="677"/>
<line x1="379.5" y1="668" x2="379.5" y2="677"/>
<line x1="387.5" y1="660" x2="387.5" y2="677"/>
<line x1="395.5" y1="653" x2="395.5" y2="677"/>
<line x1="403.5" y1="647" x2="403.5" y2="677"/>
<line x1="411.5" y1="635" x2="411.5" y2="677"/>
<line x1="419.5" y1="627" x2="419.5" y2="677"/>
<line x1="427.5" y1="620" x2="427.5" y2="677"/>
<line x1="435.5" y1="616" x2="435.5" y2="677"/>
<line x1="443.5" y1="613" x2="443.5" y2="677"/>
<line x1="451.5" y1="608" x2="451.5" y2="677"/>
<line x1="459.5" y1="605" x2="459.5" y2="677"/>
<line x1="467.5" y1="602" x2="467.5" y2="677"/>
<line x1="475.5" y1="600" x2="475.5" y2="677"/>
<line x1="483.5" y1="599" x2="483.5" y2="677"/>
<line x1="491.5" y1="598" x2="491.5" y2="677"/>
<line x1="499.5" y1="596" x2="499.5" y2="677"/>
<line x1="507.5" y1="596" x2="507.5" y2="677"/>
<line x1="515.5" y1="597" x2="515.5" y2="677"/>
<line x1="523.5" y1="603" x2="523.5" y2="677"/>
<line x1="531.5" y1="604" x2="531.5" y2="677"/>
<line x1="539.5" y1="606" x2="539.5" y2="677"/>
<line x1="547.5" y1="603" x2="547.5" y2="677"/>
<line x1="555.5" y1="599" x2="555.5" y2="677"/>
<line x1="563.5" y1="598" x2="563.5" y2="677"/>
<line x1="571.5" y1="593" x2="571.5" y2="677"/>
<line x1="579.5" y1="592" x2="579.5" y2="677"/>
<line x1="587.5" y1="592" x2="587.5" y2="677"/>
<line x1="595.5" y1="595" x2="595.5" y2="677"/>
<line x1="603.5" y1="597" x2="603.5" y2="677"/>
<line x1="611.5" y1="601" x2="611.5" y2="677"/>
<line x1="619.5" y1="608" x2="619.5" y2="677"/>
<line x1="627.5" y1="610" x2="627.5" y2="677"/>
<line x1="635.5" y1="614" x2="635.5" y2="677"/>
<line x1="643.5" y1="617" x2="643.5" y2="677"/>
<line x1="651.5" y1="624" x2="651.5" y2="677"/>
<line x1="659.5" y1="631" x2="659.5" y2="677"/>
<line x1="667.5" y1="638" x2="667.5" y2="677"/>
<line x1="675.5" y1="642" x2="675.5" y2="677"/>
<line x1="683.5" y1="643" x2="683.5" y2="677"/>
<line x1="691.5" y1="640" x2="691.5" y2="677"/>
<line x1="699.5" y1="639" x2="699.5" y2="677"/>
<line x1="707.5" y1="639" x2="707.5" y2="677"/>
<line x1="715.5" y1="638" x2="715.5" y2="677"/>
<line x1="723.5" y1="641" x2="723.5" y2="677"/>
<line x1="731.5" y1="643" x2="731.5" y2="677"/>
<line x1="739.5" y1="648" x2="739.5" y2="677"/>
<line x1="747.5" y1="653" x2="747.5" y2="677"/>
<line x1="755.5" y1="655" x2="755.5" y2="677"/>
<line x1="763.5" y1="656" x2="763.5" y2="677"/>
<line x1="771.5" y1="653" x2="771.5" y2="677"/>
<line x1="779.5" y1="651" x2="779.5" y2="677"/>
<line x1="787.5" y1="653" x2="787.5" y2="677"/>
<line x1="795.5" y1="655" x2="795.5" y2="677"/>
<line x1="803.5" y1="656" x2="803.5" y2="677"/>
<line x1="811.5" y1="648" x2="811.5" y2="677"/>
<line x1="819.5" y1="642" x2="819.5" y2="677"/>
<line x1="827.5" y1="637" x2="827.5" y2="677"/>
<line x1="835.5" y1="631" x2="835.5" y2="677"/>
<line x1="843.5" y1="629" x2="843.5" y2="677"/>
<line x1="851.5" y1="629" x2="851.5" y2="677"/>
<line x1="859.5" y1="631" x2="859.5" y2="677"/>
<line x1="867.5" y1="633" x2="867.5" y2="677"/>
<line x1="875.5" y1="635" x2="875.5" y2="677"/>
<line x1="883.5" y1="637" x2="883.5" y2="677"/>
<line x1="891.5" y1="640" x2="891.5" y2="677"/>
<line x1="899.5" y1="644" x2="899.5" y2="677"/>
<line x1="907.5" y1="643" x2="907.5" y2="677"/>
<line x1="915.5" y1="646" x2="915.5" y2="677"/>
<line x1="923.5" y1="648" x2="923.5" y2="677"/>
<line x1="931.5" y1="657" x2="931.5" y2="677"/>
<line x1="939.5" y1="664" x2="939.5" y2="677"/>
<line x1="947.5" y1="668" x2="947.5" y2="677"/>
<line x1="955.5" y1="668" x2="955.5" y2="677"/>
<line x1="963.5" y1="675" x2="963.5" y2="677"/>
<line x1="971.5" y1="676" x2="971.5" y2="681"/>
<line x1="979.5" y1="676" x2="979.5" y2="684"/>
<line x1="987.5" y1="676" x2="987.5" y2="692"/>
<line x1="995.5" y1="676" x2="995.5" y2="689"/>
<line x1="1003.5" y1="676" x2="1003.5" y2="683"/>
<line x1="1011.5" y1="676" x2="1011.5" y2="678"/>
<line x1="1027.5" y1="669" x2="1027.5" y2="677"/>
<line x1="1035.5" y1="664" x2="1035.5" y2="677"/>
<line x1="1043.5" y1="660" x2="1043.5" y2="677"/>
<line x1="1051.5" y1="654" x2="1051.5" y2="677"/>
<line x1="1059.5" y1="651" x2="1059.5" y2="677"/>
<line x1="1067.5" y1="648" x2="1067.5" y2="677"/>
<line x1="1075.5" y1="647" x2="1075.5" y2="677"/>
<line x1="1083.5" y1="650" x2="1083.5" y2="677"/>
<line x1="1091.5" y1="653" x2="1091.5" y2="677"/>
<line x1="1099.5" y1="655" x2="1099.5" y2="677"/>
<line x1="1107.5" y1="661" x2="1107.5" y2="677"/>
<line x1="1115.5" y1="672" x2="1115.5" y2="677"/>
<line x1="1123.5" y1="676" x2="1123.5" y2="683"/>
<line x1="1131.5" y1="676" x2="1131.5" y2="689"/>
<line x1="1139.5" y1="676" x2="1139.5" y2="695"/>
<line x1="1147.5" y1="676" x2="1147.5" y2="701"/>
<line x1="1155.5" y1="676" x2="1155.5" y2="714"/>
<line x1="1163.5" y1="676" x2="1163.5" y2="723"/>
<line x1="1171.5" y1="676" x2="1171.5" y2="727"/>
<line x1="1179.5" y1="676" x2="1179.5" y2="721"/>
<line x1="1187.5" y1="676" x2="1187.5" y2="710"/>
<line x1="1195.5" y1="676" x2="1195.5" y2="695"/>
<line x1="1203.5" y1="676" x2="1203.5" y2="687"/>
<line x1="1211.5" y1="676" x2="1211.5" y2="683"/>
<line x1="1219.5" y1="676" x2="1219.5" y2="677"/>
<line x1="1227.5" y1="672" x2="1227.5" y2="677"/>
<line x1="1235.5" y1="667" x2="1235.5" y2="677"/>
<line x1="1243.5" y1="667" x2="1243.5" y2="677"/>
<line x1="1251.5" y1="670" x2="1251.5" y2="677"/>
<line x1="1259.5" y1="672" x2="1259.5" y2="677"/>
<line x1="1267.5" y1="675" x2="1267.5" y2="677"/>
<line x1="1275.5" y1="676" x2="1275.5" y2="678"/>
<line x1="1291.5" y1="676" x2="1291.5" y2="678"/>
<line x1="1299.5" y1="676" x2="1299.5" y2="684"/>
<line x1="1307.5" y1="676" x2="1307.5" y2="697"/>
<line x1="1315.5" y1="676" x2="1315.5" y2="713"/>
<line x1="1323.5" y1="676" x2="1323.5" y2="727"/>
<line x1="1331.5" y1="676" x2="1331.5" y2="740"/>
</g>
<polyline points="1.9,738.3 11.2,738.6 28.0,737.3 37.3,734.5 50.4,731.2 61.6,728.4 74.7,725.2 84.0,722.2 97.0,718.5 112.0,714.4 123.2,710.6 134.4,705.0 145.6,696.6 158.6,686.4 171.7,675.2 179.2,669.6 186.6,660.3 196.0,651.9 203.4,642.5 214.6,631.3 227.7,620.7 240.8,613.6 250.1,608.9 259.4,605.2 266.9,604.3 283.7,604.3 293.0,606.1 302.4,608.4 311.2,611.7 322.4,616.4 333.6,623.9 344.8,632.3 356.0,639.7 367.2,648.1 376.5,654.7 385.9,658.9 397.0,660.3 408.2,659.3 417.6,654.7 428.8,649.1 438.1,640.7 449.3,632.3 458.6,624.8 468.0,618.3 479.2,611.7 490.4,607.1 499.7,603.3 509.0,600.2 516.5,599.2 542.6,599.2 580.0,599.2 587.4,598.1 598.6,596.8 618.7,596.4 635.5,598.7 642.9,602.4 654.1,607.6 665.3,613.6 674.7,620.1 684.0,624.8 695.2,629.5 702.7,632.6 713.8,635.4 726.9,638.2 740.0,640.1 758.6,643.5 768.0,645.7 779.2,648.5 794.1,650.9 805.3,652.2 816.5,651.3 827.7,649.4 835.2,646.3 844.5,643.5 855.7,639.7 866.9,636.4 880.0,633.8 891.2,632.4 902.4,633.6 913.1,635.4 924.3,638.8 937.3,644.4 948.5,650.0 961.6,655.2 972.8,661.2 982.1,666.8 991.5,672.4 1002.6,678.4 1012.0,680.4 1026.9,681.3 1038.1,678.4 1049.3,674.3 1058.6,669.6 1068.0,664.0 1075.4,660.3 1086.6,656.5 1096.0,653.7 1105.3,652.4 1114.6,654.7 1127.7,659.3 1140.8,668.7 1152.0,677.0 1161.3,685.5 1170.6,694.8 1180.0,703.2 1187.5,707.5 1204.3,708.4 1213.6,706.9 1224.8,700.9 1236.0,692.9 1245.3,684.5 1254.7,678.4 1264.0,674.8 1277.0,673.3 1284.5,672.4 1295.7,672.8 1305.0,675.6 1312.5,679.9 1320.0,686.8 1328.4,693.5" fill="none" stroke="#ff0000" stroke-width="1.05" stroke-dasharray="3 3"/>
</g>
<text x="0.0" y="595.0" font-size="9.8" fill="#000" textLength="128.0" lengthAdjust="spacingAndGlyphs" stroke="#000" stroke-width="0.15">MACD(12,26,9) -267.39 -88.43</text>
<g shape-rendering="crispEdges" stroke="#000">
<line x1="1615" y1="584.5" x2="1616" y2="584.5"/>
<line x1="1615" y1="676.5" x2="1616" y2="676.5"/>
<line x1="1615" y1="751.5" x2="1616" y2="751.5"/>
</g>
<text x="1618.2" y="593.0" font-size="9.8" fill="#000" textLength="27.6" lengthAdjust="spacingAndGlyphs" stroke="#000" stroke-width="0.15">386.37</text>
<text x="1618.2" y="680.0" font-size="9.8" fill="#000" textLength="17.6" lengthAdjust="spacingAndGlyphs" stroke="#000" stroke-width="0.15">0.00</text>
<text x="1618.2" y="749.0" font-size="9.8" fill="#000" textLength="25.6" lengthAdjust="spacingAndGlyphs" stroke="#000" stroke-width="0.15">-316.6</text>
<g clip-path="url(#crsi)">
<g shape-rendering="crispEdges" stroke="#c0c0c0" stroke-width="1" stroke-dasharray="3 3">
<line x1="2" y1="790.5" x2="1614" y2="790.5"/>
<line x1="2" y1="841.5" x2="1614" y2="841.5"/>
<line x1="2" y1="902.5" x2="1614" y2="902.5"/>
</g>
<polyline points="0.0,855.6 3.5,851.8 11.5,850.4 19.5,850.4 27.5,855.2 35.5,845.3 43.5,848.5 51.5,861.2 59.5,863.4 67.5,849.4 75.5,849.4 83.5,848.1 91.5,841.6 99.5,841.6 107.5,844.0 115.5,845.3 123.5,844.0 131.5,834.1 139.5,819.2 147.5,819.2 155.5,820.5 163.5,814.5 171.5,819.2 179.5,809.5 187.5,806.1 195.5,803.0 203.5,813.2 211.5,811.4 219.5,809.3 227.5,807.4 235.5,805.6 243.5,817.3 251.5,813.2 259.5,813.2 267.5,821.4 275.5,813.2 283.5,816.9 291.5,831.3 299.5,829.1 307.5,827.2 315.5,832.3 323.5,850.4 331.5,853.3 339.5,841.6 347.5,846.3 355.5,844.4 363.5,850.4 371.5,845.3 379.5,831.3 387.5,820.1 395.5,818.3 403.5,818.3 411.5,806.1 419.5,808.4 427.5,807.2 435.5,809.5 443.5,807.2 451.5,803.3 459.5,803.3 467.5,801.5 475.5,800.5 483.5,799.6 491.5,798.3 499.5,795.3 507.5,797.4 515.5,797.4 523.5,819.2 531.5,809.5 539.5,808.0 547.5,800.0 555.5,796.4 563.5,801.5 571.5,793.4 579.5,803.3 587.5,803.3 595.5,811.7 603.5,808.0 611.5,816.4 619.5,827.2 627.5,818.3 635.5,824.2 643.5,821.4 651.5,833.2 659.5,839.2 667.5,841.6 675.5,833.8 683.5,826.7 691.5,820.5 699.5,821.4 707.5,820.3 715.5,820.3 723.5,831.3 731.5,828.1 739.5,839.7 747.5,844.0 755.5,835.4 763.5,832.3 771.5,823.5 779.5,822.4 787.5,834.1 795.5,835.4 803.5,834.1 811.5,811.4 819.5,812.3 827.5,811.2 835.5,806.5 843.5,811.2 851.5,821.2 859.5,821.2 867.5,824.2 875.5,822.4 883.5,827.2 891.5,829.3 899.5,833.2 907.5,821.4 915.5,832.3 923.5,834.1 931.5,854.3 939.5,853.3 947.5,848.5 955.5,836.5 963.5,854.6 971.5,859.3 979.5,857.5 987.5,863.4 995.5,841.6 1003.5,832.3 1011.5,834.3 1019.5,833.2 1027.5,823.3 1035.5,827.2 1043.5,825.3 1051.5,819.4 1059.5,824.2 1067.5,822.4 1075.5,823.3 1083.5,838.4 1091.5,838.4 1099.5,836.4 1107.5,848.1 1115.5,863.4 1123.5,870.3 1131.5,860.2 1139.5,861.6 1147.5,865.8 1155.5,879.3 1163.5,874.2 1171.5,868.3 1179.5,847.2 1187.5,833.2 1195.5,824.2 1203.5,834.1 1211.5,837.5 1219.5,834.1 1227.5,830.4 1235.5,830.4 1243.5,838.4 1251.5,844.4 1259.5,844.4 1267.5,848.5 1275.5,851.5 1283.5,836.4 1291.5,847.2 1299.5,854.6 1307.5,865.3 1315.5,874.2 1323.5,875.2 1331.5,876.5" fill="none" stroke="#1e90ff" stroke-width="1"/>
</g>
<text x="0.0" y="767.0" font-size="9.8" fill="#000" textLength="67.0" lengthAdjust="spacingAndGlyphs" stroke="#000" stroke-width="0.15">RSI(14) 29.7708</text>
<g shape-rendering="crispEdges" stroke="#000">
<line x1="1615" y1="756.5" x2="1616" y2="756.5"/>
<line x1="1615" y1="790.5" x2="1616" y2="790.5"/>
<line x1="1615" y1="841.5" x2="1616" y2="841.5"/>
<line x1="1615" y1="902.5" x2="1616" y2="902.5"/>
<line x1="1615" y1="926.5" x2="1616" y2="926.5"/>
</g>
<text x="1618.4" y="765.0" font-size="9.8" fill="#000" textLength="14.3" lengthAdjust="spacingAndGlyphs" stroke="#000" stroke-width="0.15">100</text>
<text x="1618.2" y="794.0" font-size="9.8" fill="#000" textLength="9.6" lengthAdjust="spacingAndGlyphs" stroke="#000" stroke-width="0.15">80</text>
<text x="1618.2" y="845.0" font-size="9.8" fill="#000" textLength="9.6" lengthAdjust="spacingAndGlyphs" stroke="#000" stroke-width="0.15">50</text>
<text x="1618.4" y="906.0" font-size="9.8" fill="#000" textLength="9.4" lengthAdjust="spacingAndGlyphs" stroke="#000" stroke-width="0.15">15</text>
<text x="1618.2" y="925.0" font-size="9.8" fill="#000" textLength="4.6" lengthAdjust="spacingAndGlyphs" stroke="#000" stroke-width="0.15">0</text>
<g shape-rendering="crispEdges" stroke="#000">
<line x1="59.5" y1="929" x2="59.5" y2="932"/>
<line x1="123.5" y1="929" x2="123.5" y2="932"/>
<line x1="187.5" y1="929" x2="187.5" y2="932"/>
<line x1="251.5" y1="929" x2="251.5" y2="932"/>
<line x1="315.5" y1="929" x2="315.5" y2="932"/>
<line x1="379.5" y1="929" x2="379.5" y2="932"/>
<line x1="443.5" y1="929" x2="443.5" y2="932"/>
<line x1="507.5" y1="929" x2="507.5" y2="932"/>
<line x1="571.5" y1="929" x2="571.5" y2="932"/>
<line x1="635.5" y1="929" x2="635.5" y2="932"/>
<line x1="699.5" y1="929" x2="699.5" y2="932"/>
<line x1="763.5" y1="929" x2="763.5" y2="932"/>
<line x1="827.5" y1="929" x2="827.5" y2="932"/>
<line x1="891.5" y1="929" x2="891.5" y2="932"/>
<line x1="955.5" y1="929" x2="955.5" y2="932"/>
<line x1="1019.5" y1="929" x2="1019.5" y2="932"/>
<line x1="1083.5" y1="929" x2="1083.5" y2="932"/>
<line x1="1147.5" y1="929" x2="1147.5" y2="932"/>
<line x1="1211.5" y1="929" x2="1211.5" y2="932"/>
<line x1="1275.5" y1="929" x2="1275.5" y2="932"/>
</g>
<text x="-5.8" y="941.0" font-size="9.8" fill="#000" textLength="52.6" lengthAdjust="spacingAndGlyphs" stroke="#000" stroke-width="0.15">15 Aug 2019</text>
<text x="58.2" y="941.0" font-size="9.8" fill="#000" textLength="52.6" lengthAdjust="spacingAndGlyphs" stroke="#000" stroke-width="0.15">25 Aug 2019</text>
<text x="122.2" y="941.0" font-size="9.8" fill="#000" textLength="46.2" lengthAdjust="spacingAndGlyphs" stroke="#000" stroke-width="0.15">3 Sep 2019</text>
<text x="186.2" y="941.0" font-size="9.8" fill="#000" textLength="51.2" lengthAdjust="spacingAndGlyphs" stroke="#000" stroke-width="0.15">12 Sep 2019</text>
<text x="250.2" y="941.0" font-size="9.8" fill="#000" textLength="51.2" lengthAdjust="spacingAndGlyphs" stroke="#000" stroke-width="0.15">22 Sep 2019</text>
<text x="314.2" y="941.0" font-size="9.8" fill="#000" textLength="45.1" lengthAdjust="spacingAndGlyphs" stroke="#000" stroke-width="0.15">1 Oct 2019</text>
<text x="378.2" y="941.0" font-size="9.8" fill="#000" textLength="50.1" lengthAdjust="spacingAndGlyphs" stroke="#000" stroke-width="0.15">10 Oct 2019</text>
<text x="442.2" y="941.0" font-size="9.8" fill="#000" textLength="50.1" lengthAdjust="spacingAndGlyphs" stroke="#000" stroke-width="0.15">20 Oct 2019</text>
<text x="506.2" y="941.0" font-size="9.8" fill="#000" textLength="50.1" lengthAdjust="spacingAndGlyphs" stroke="#000" stroke-width="0.15">29 Oct 2019</text>
<text x="570.2" y="941.0" font-size="9.8" fill="#000" textLength="48.3" lengthAdjust="spacingAndGlyphs" stroke="#000" stroke-width="0.15">7 Nov 2019</text>
<text x="634.2" y="941.0" font-size="9.8" fill="#000" textLength="53.3" lengthAdjust="spacingAndGlyphs" stroke="#000" stroke-width="0.15">17 Nov 2019</text>
<text x="698.2" y="941.0" font-size="9.8" fill="#000" textLength="53.3" lengthAdjust="spacingAndGlyphs" stroke="#000" stroke-width="0.15">26 Nov 2019</text>
<text x="762.2" y="941.0" font-size="9.8" fill="#000" textLength="46.2" lengthAdjust="spacingAndGlyphs" stroke="#000" stroke-width="0.15">5 Dec 2019</text>
<text x="826.2" y="941.0" font-size="9.8" fill="#000" textLength="51.2" lengthAdjust="spacingAndGlyphs" stroke="#000" stroke-width="0.15">15 Dec 2019</text>
<text x="890.2" y="941.0" font-size="9.8" fill="#000" textLength="51.2" lengthAdjust="spacingAndGlyphs" stroke="#000" stroke-width="0.15">24 Dec 2019</text>
<text x="954.2" y="941.0" font-size="9.8" fill="#000" textLength="44.2" lengthAdjust="spacingAndGlyphs" stroke="#000" stroke-width="0.15">2 Jan 2020</text>
<text x="1018.2" y="941.0" font-size="9.8" fill="#000" textLength="49.2" lengthAdjust="spacingAndGlyphs" stroke="#000" stroke-width="0.15">12 Jan 2020</text>
<text x="1082.2" y="941.0" font-size="9.8" fill="#000" textLength="49.2" lengthAdjust="spacingAndGlyphs" stroke="#000" stroke-width="0.15">21 Jan 2020</text>
<text x="1146.2" y="941.0" font-size="9.8" fill="#000" textLength="49.2" lengthAdjust="spacingAndGlyphs" stroke="#000" stroke-width="0.15">30 Jan 2020</text>
<text x="1210.2" y="941.0" font-size="9.8" fill="#000" textLength="46.0" lengthAdjust="spacingAndGlyphs" stroke="#000" stroke-width="0.15">9 Feb 2020</text>
<text x="1274.2" y="941.0" font-size="9.8" fill="#000" textLength="51.0" lengthAdjust="spacingAndGlyphs" stroke="#000" stroke-width="0.15">18 Feb 2020</text>
<rect x="0" y="949" width="1661" height="1" fill="#e3e3e3"/>
<rect x="1660" y="25" width="1" height="926" fill="#dcdcdc"/>
</svg>
<div id="tb">
<div id="toolbar"></div>
<div id="tbline"></div>
<div class="hl" style="left:251px;width:24px"></div>
<div class="hl" style="left:401px;width:26px"></div>
<div class="hl" style="left:431px;width:24px"></div>
<div class="hl" style="left:591px;width:24px"></div>
<div class="hl" style="left:1065px;width:24px"></div>
<div class="tbtxt" style="left:4px;font-weight:500">新订单</div>
<div class="tbtxt" style="left:157px;font-weight:500">自动交易</div>
<div class="sep" style="left:211px"></div>
<div class="grip" style="left:215px"></div>
<div class="sep" style="left:249px"></div>
<div class="sep" style="left:306px"></div>
<div class="sep" style="left:396px"></div>
<div class="sep" style="left:429px"></div>
<div class="sep" style="left:458px"></div>
<div class="sep" style="left:579px"></div>
<div class="grip" style="left:583px"></div>
<div class="sep" style="left:589px"></div>
<div class="sep" style="left:646px"></div>
<div class="sep" style="left:885px"></div>
<div class="grip" style="left:889px"></div>
<div class="sep" style="left:1063px"></div>
<div class="sep" style="left:1146px"></div>
<div class="tf" style="left:900px">M1</div>
<div class="tf" style="left:928px">M5</div>
<div class="tf" style="left:954px">M15</div>
<div class="tf" style="left:982px">M30</div>
<div class="tf" style="left:1013px">H1</div>
<div class="tf" style="left:1040px">H4</div>
<div class="tf" style="left:1069px">D1</div>
<div class="tf" style="left:1097px">W1</div>
<div class="tf" style="left:1123px">MN</div>
<svg width="1661" height="24" viewBox="0 0 1661 24" font-family='"Liberation Sans", sans-serif'>
<!-- new order green corner -->
<rect x="0" y="13" width="1.300" height="4.500" fill="#0a7a0a"/>
<!-- book icon -->
<defs><linearGradient id="gbk" x1="0" y1="0" x2="1" y2="1"><stop offset="0" stop-color="#fbe36a"/><stop offset="1" stop-color="#d89a18"/></linearGradient></defs>
<polygon points="52,12.500 58.300,4.300 68,12.300 60,19" fill="#b07c14"/>
<polygon points="52.600,11.800 58.300,4.600 66.800,11.300 59.800,17.300" fill="url(#gbk)"/>
<path d="M60 18.300 L67.500 12.500" stroke="#f4e8c0" stroke-width="0.800"/>
<!-- cloud/monitor icon -->
<rect x="83" y="4" width="11" height="11" fill="#4aa3e8" stroke="#2a78c0"/>
<rect x="85" y="6" width="7" height="2" fill="#e8f4ff"/>
<ellipse cx="88" cy="15.5" rx="7.5" ry="3.5" fill="#e4ecf6" stroke="#8aa4c8"/>
<!-- signal icon -->
<circle cx="116" cy="12" r="7" fill="none" stroke="#9ab4d8" stroke-width="1.5"/>
<circle cx="116" cy="12" r="4" fill="none" stroke="#6a94c8" stroke-width="1.5"/>
<circle cx="116" cy="11" r="1.6" fill="#2a68c0"/>
<path d="M116 12 V19 Q120 19 122 15" fill="none" stroke="#3aa83a" stroke-width="2"/>
<!-- auto trading icon -->
<ellipse cx="143" cy="7.5" rx="7.5" ry="3.2" fill="#6aa8e0" stroke="#3a78c0"/>
<ellipse cx="143" cy="6" rx="3.5" ry="2.5" fill="#4a90d8"/>
<polygon points="136,10 150,10 145,18 141,18" fill="#f0c040" stroke="#b08818" stroke-width="0.8"/>
<circle cx="147.5" cy="14.5" r="4" fill="#e02020"/>
<rect x="146" y="13" width="3" height="3" fill="#fff"/>
<!-- bar chart icon -->
<g stroke="#404040" stroke-width="1.1" fill="none">
<path d="M229.5 5 V19 M226.5 16.5 H241"/>
<path d="M257.5 5 V19 M254.5 16.5 H269"/>
<path d="M285.5 5 V19 M282.5 16.5 H297"/>
<path d="M409.5 5 V19 M406.5 16.5 H421"/>
<path d="M437.5 5 V19 M434.5 16.5 H449"/>
</g>
<g fill="#404040"><polygon points="229.5,4.5 227.8,7.2 231.2,7.2"/><polygon points="241.5,16.5 238.8,14.8 238.8,18.2"/>
<polygon points="257.5,4.5 255.8,7.2 259.2,7.2"/><polygon points="269.5,16.5 266.8,14.8 266.8,18.2"/>
<polygon points="285.5,4.5 283.8,7.2 287.2,7.2"/><polygon points="297.5,16.5 294.8,14.8 294.8,18.2"/>
<polygon points="409.5,4.5 407.8,7.2 411.2,7.2"/><polygon points="421.5,16.5 418.8,14.8 418.8,18.2"/>
<polygon points="437.5,4.5 435.8,7.2 439.2,7.2"/><polygon points="449.5,16.5 446.8,14.8 446.8,18.2"/></g>
<path d="M233 13.500 H235.500 M235.500 6.300 V14.300 M235.500 7.200 H238" fill="none" stroke="#0a8a0a" stroke-width="1.400"/>
<path d="M263.500 3 V14.600" stroke="#0a800a" stroke-width="1.600"/>
<rect x="261.500" y="6" width="4" height="6.500" fill="#40e040" stroke="#0a900a"/>
<path d="M284.200 13.600 Q288 8.300 290.200 8.300 Q292 8.300 295.500 12.300" fill="none" stroke="#1a8a2a" stroke-width="1.300"/>
<!-- zoom in/out -->
<line x1="325" y1="13" x2="330" y2="18" stroke="#c8a020" stroke-width="2.6" stroke-linecap="round"/>
<circle cx="321" cy="9" r="5.3" fill="#d4eefa" stroke="#3a84d0" stroke-width="1.3"/>
<path d="M318 9 H324 M321 6 V12" stroke="#3a80c8" stroke-width="1.7"/>
<line x1="353" y1="13" x2="358" y2="18" stroke="#c8a020" stroke-width="2.6" stroke-linecap="round"/>
<circle cx="349" cy="9" r="5.3" fill="#d4eefa" stroke="#3a84d0" stroke-width="1.3"/>
<path d="M346 9 H352" stroke="#3a80c8" stroke-width="1.7"/>
<!-- tile windows -->
<rect x="371" y="3" width="8" height="8" fill="#48a828"/><rect x="379" y="3" width="8" height="8" fill="#2860d0"/>
<rect x="371" y="11" width="8" height="8" fill="#2860d0"/><rect x="379" y="11" width="8" height="8" fill="#48a828"/>
<rect x="372.500" y="6" width="5" height="3" fill="#e8f8e0"/><rect x="380.500" y="6" width="5" height="3" fill="#e0e8fc"/>
<rect x="372.500" y="14" width="5" height="3" fill="#e0e8fc"/><rect x="380.500" y="14" width="5" height="3" fill="#e8f8e0"/>
<!-- autoscroll / shift -->
<polygon points="414.300,7.700 414.300,13.700 418.500,10.700" fill="#58e858" stroke="#18a018" stroke-width="1"/>
<path d="M443.500 5 V15" stroke="#2a68c0" stroke-width="1.2"/>
<path d="M449 10.500 H445 M447 8.500 L444.800 10.500 L447 12.500" stroke="#d03010" stroke-width="1.2" fill="none"/>
<!-- new chart -->
<path d="M468.500 4.500 H476 L479.500 8 V15.500 H468.500 Z" fill="#fafafa" stroke="#808080"/>
<path d="M476 4.500 V8 H479.500" fill="none" stroke="#808080"/>
<path d="M478.200 8.600 V20.300 M472.300 14.500 H484.100" stroke="#0a8a0a" stroke-width="4.400"/>
<path d="M478.200 9.400 V19.500 M473.100 14.500 H483.300" stroke="#30d830" stroke-width="2.800"/>
<polygon points="490,10 496,10 493,13" fill="#000"/>
<!-- clock -->
<defs><linearGradient id="gck" x1="0" y1="0" x2="1" y2="1"><stop offset="0" stop-color="#58a8f0"/><stop offset="1" stop-color="#0a48b0"/></linearGradient></defs>
<circle cx="514" cy="11" r="6.800" fill="#f4f8ff" stroke="url(#gck)" stroke-width="2.600"/>
<path d="M514 7 V11.500 H517" stroke="#404040" stroke-width="1.100" fill="none"/>
<path d="M514 5.800 V6.600 M514 15.400 V16.200 M508.800 11 H509.600 M518.400 11 H519.200" stroke="#7088b0" stroke-width="0.800"/>
<polygon points="528.500,10 534.500,10 531.500,13" fill="#000"/>
<!-- template -->
<rect x="545.500" y="4.500" width="15" height="13" fill="#f8fbff" stroke="#3a78c8"/>
<rect x="546" y="5" width="14" height="2.500" fill="#5a98e0"/>
<path d="M545.500 11.500 H560.500" stroke="#3a78c8"/>
<path d="M548 10 L551 9 L554 9.500 L558 8" stroke="#c02010" stroke-width="1.2" fill="none"/>
<path d="M548 15.500 L551 14 L554 15 L556 13.500 L558 15" stroke="#18a018" stroke-width="1.2" fill="none"/>
<polygon points="567.500,10 573.500,10 570.500,13" fill="#000"/>
<!-- cursor -->
<polygon points="597,4 597,16 600,13.500 602,18 604,17 602,12.500 606,12.500" fill="#404040"/>
<!-- crosshair -->
<path d="M629.500 4 V10 M629.500 13 V19 M622 11.500 H628 M631 11.500 H637" stroke="#404040" stroke-width="1"/>
<!-- vertical, horizontal, trend line -->
<path d="M663.500 5 V18" stroke="#404040" stroke-width="1.2"/>
<path d="M684 11.500 H698" stroke="#404040" stroke-width="1.2"/>
<path d="M714 18 L726 6" stroke="#404040" stroke-width="1.2"/>
<!-- channel -->
<path d="M740 15 L754 5 M742 18 L754 10 M744 8 L743 18 M748 5 L747 16 M752 3 L751 13" stroke="#404040" stroke-width="1"/>
<text x="751" y="20" font-size="7" font-weight="700" fill="#404040">E</text>
<!-- fibo -->
<path d="M769 4.500 H782 M769 8.500 H782 M769 12.500 H782 M769 16.500 H778" stroke="#404040" stroke-width="1" stroke-dasharray="1 1"/>
<text x="778.500" y="20" font-size="7" font-weight="700" fill="#404040">F</text>
<!-- A -->
<text x="799.300" y="15.500" font-size="12.500" font-weight="700" fill="#484848">A</text>
<!-- T label -->
<rect x="826.500" y="5.500" width="11" height="12" fill="none" stroke="#404040" stroke-dasharray="1 1" shape-rendering="crispEdges"/>
<text x="828" y="16" font-size="11" font-weight="700" fill="#404040">T</text>
<!-- arrows -->
<polygon points="853,9 856.500,5.500 860,9 856.500,10.500" fill="#404040"/>
<polygon points="860,14 867,14 863.500,18" fill="#404040"/>
<path d="M856 12 L858 14 L862 9" stroke="#404040" fill="none" stroke-width="1.2"/>
<polygon points="873.500,10 879.500,10 876.500,13" fill="#000"/>
<!-- search / chat -->
<path d="M1613.400 11.800 L1609.600 15.400" stroke="#1c50c8" stroke-width="2.500" stroke-linecap="round"/>
<circle cx="1616.600" cy="8.500" r="4" fill="#fff" stroke="#2458d0" stroke-width="1.300"/>
<defs><linearGradient id="gch" x1="0" y1="0" x2="0" y2="1"><stop offset="0" stop-color="#ffffff"/><stop offset="1" stop-color="#d8d8ea"/></linearGradient></defs>
<path d="M1650.500 12 L1652.300 14.600 L1653.300 11.500 Z" fill="#707070"/>
<ellipse cx="1649.300" cy="7.800" rx="6.400" ry="4.700" fill="url(#gch)" stroke="#8c8c8c" stroke-width="0.900"/>
<path d="M1638.600 15 L1637.700 17.700 L1641 15.600 Z" fill="#707070"/>
<ellipse cx="1640.200" cy="12.200" rx="5" ry="3.800" fill="url(#gch)" stroke="#8c8c8c" stroke-width="0.900"/>
</svg>
</div>
<div id="trade">
<svg width="217" height="64" viewBox="0 47 217 64" font-family='"Liberation Sans", sans-serif' style="position:absolute;left:0;top:0">
<defs>
<linearGradient id="grd" x1="0" y1="47" x2="0" y2="111" gradientUnits="userSpaceOnUse"><stop offset="0" stop-color="#fb5252"/><stop offset="0.36" stop-color="#e23232"/><stop offset="0.6" stop-color="#c81818"/><stop offset="1" stop-color="#ae0000"/></linearGradient>
<linearGradient id="gbt" x1="0" y1="0" x2="0" y2="1"><stop offset="0" stop-color="#f2f2f2"/><stop offset="0.32" stop-color="#e6e6e6"/><stop offset="0.33" stop-color="#d6d6d6"/><stop offset="1" stop-color="#d2d2d2"/></linearGradient>
</defs>
<g shape-rendering="crispEdges">
<rect x="0" y="47" width="107" height="64" fill="url(#grd)"/>
<rect x="109" y="47" width="108" height="64" fill="url(#grd)"/>
<rect x="0" y="47" width="50" height="1" fill="#b20000"/>
<rect x="165" y="47" width="52" height="1" fill="#b20000"/>
<rect x="50" y="47" width="115" height="24" fill="#fff"/>
<rect x="49" y="47" width="1" height="25" fill="#b20000"/>
<rect x="165" y="47" width="1" height="25" fill="#b20000"/>
<rect x="49" y="71" width="117" height="1" fill="#b20000"/>
<rect x="106" y="72" width="1" height="39" fill="#a80000"/>
<rect x="109" y="72" width="1" height="39" fill="#a80000"/>
<rect x="216" y="47" width="1" height="64" fill="#a80000"/>
<rect x="0" y="110" width="107" height="1" fill="#a00000"/>
<rect x="109" y="110" width="108" height="1" fill="#a00000"/>
<rect x="107" y="71" width="2" height="40" fill="#fff"/>
<rect x="52.500" y="47.500" width="110" height="21" fill="#fff" stroke="#a8acb4"/>
<rect x="54" y="49" width="18" height="18" fill="url(#gbt)"/>
<rect x="143" y="49" width="18" height="18" fill="url(#gbt)"/>
<rect x="73" y="48" width="1" height="20" fill="#a8acb4"/>
<rect x="141" y="48" width="1" height="20" fill="#a8acb4"/>
<rect x="2" y="70" width="44" height="1" fill="#980000"/>
<rect x="2" y="71" width="44" height="1" fill="#ff8c8c"/>
<rect x="169" y="70" width="44" height="1" fill="#980000"/>
<rect x="169" y="71" width="44" height="1" fill="#ff8c8c"/>
</g>
<polygon points="59.800,56 65.300,56 62.550,59.200" fill="#5060c0"/>
<polygon points="148.700,59 154.300,59 151.500,55.800" fill="#5060c0"/>
<text x="137.800" y="62" font-size="12.500" text-anchor="end" fill="#000">1.00</text>
<text x="23" y="62.500" font-size="11" text-anchor="middle" fill="#fff">SELL</text>
<text x="190" y="62.500" font-size="11" text-anchor="middle" fill="#fff">BUY</text>
<text x="14" y="102" font-size="12" font-weight="700" fill="#fff" textLength="34.600" lengthAdjust="spacingAndGlyphs">22253</text>
<text x="124.200" y="102" font-size="12" font-weight="700" fill="#fff" textLength="34.600" lengthAdjust="spacingAndGlyphs">22276</text>
<text x="51.300" y="101.200" font-size="27" font-weight="700" fill="#fff">.</text>
<text x="59.800" y="101.300" font-size="31" fill="#fff" textLength="17" lengthAdjust="spacingAndGlyphs">5</text>
<text x="162.300" y="101.200" font-size="27" font-weight="700" fill="#fff">.</text>
<text x="170.600" y="101.300" font-size="31" fill="#fff" textLength="17" lengthAdjust="spacingAndGlyphs">5</text>
</svg>
</div>

</body></html>
